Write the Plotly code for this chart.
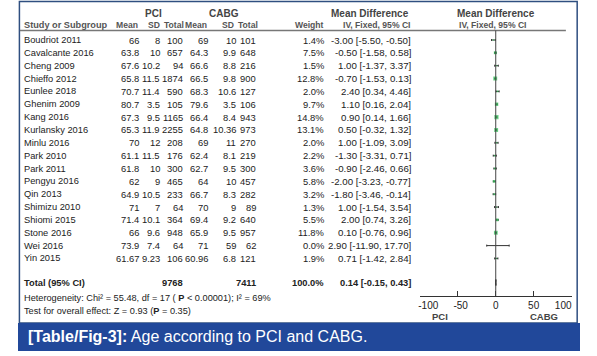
import plotly.graph_objects as go

W, H = 597, 356

studies = ["Boudriot 2011", "Cavalcante 2016", "Cheng 2009", "Chieffo 2012", "Eunlee 2018",
           "Ghenim 2009", "Kang 2016", "Kurlansky 2016", "Minlu 2016", "Park 2010", "Park 2011",
           "Pengyu 2016", "Qin 2013", "Shimizu 2010", "Shiomi 2015", "Stone 2016", "Wei 2016", "Yin 2015"]
pci_mean = [66, 63.8, 67.6, 65.8, 70.7, 80.7, 67.3, 65.3, 70, 61.1, 61.8, 62, 64.9, 71, 71.4, 66, 73.9, 61.67]
pci_sd = [8, 10, 10.2, 11.5, 11.4, 3.5, 9.5, 11.9, 12, 11.5, 10, 9, 10.5, 7, 10.1, 9.6, 7.4, 9.23]
pci_n = [100, 657, 94, 1874, 590, 105, 1165, 2255, 208, 176, 300, 465, 233, 64, 364, 948, 64, 106]
cabg_mean = [69, 64.3, 66.6, 66.5, 68.3, 79.6, 66.4, 64.8, 69, 62.4, 62.7, 64, 66.7, 70, 69.4, 65.9, 71, 60.96]
cabg_sd = [10, 9.9, 8.8, 9.8, 10.6, 3.5, 8.4, 10.36, 11, 8.1, 9.5, 10, 8.3, 9, 9.2, 9.5, 59, 6.8]
cabg_n = [101, 648, 216, 900, 127, 106, 943, 973, 270, 219, 300, 457, 282, 89, 640, 957, 62, 121]
weight = [1.4, 7.5, 1.5, 12.8, 2.0, 9.7, 14.8, 13.1, 2.0, 2.2, 3.6, 5.8, 3.2, 1.3, 5.5, 11.8, 0.0, 1.9]
md = [-3.00, -0.50, 1.00, -0.70, 2.40, 1.10, 0.90, 0.50, 1.00, -1.30, -0.90, -2.00, -1.80, 1.00, 2.00, 0.10, 2.90, 0.71]
ci_lo = [-5.50, -1.58, -1.37, -1.53, 0.34, 0.16, 0.14, -0.32, -1.09, -3.31, -2.46, -3.23, -3.46, -1.54, 0.74, -0.76, -11.90, -1.42]
ci_hi = [-0.50, 0.58, 3.37, 0.13, 4.46, 2.04, 1.66, 1.32, 3.09, 0.71, 0.66, -0.77, -0.14, 3.54, 3.26, 0.96, 17.70, 2.84]

total_pci_n = 9768
total_cabg_n = 7411
total_weight = 100.0
total_md, total_lo, total_hi = 0.14, -0.15, 0.43
axis_ticks = [-100, -50, 0, 50, 100]
heterogeneity = "Heterogeneity: Chi² = 55.48, df = 17 ( <b>P</b> < 0.00001); I² = 69%"
overall = "Test for overall effect: Z = 0.93 (<b>P</b> = 0.35)"
caption_bold = "[Table/Fig-3]:"
caption_text = "Age according to PCI and CABG."

FONT = "Liberation Sans, Arial, sans-serif"
TXT = "#222222"
HDR = "#555555"
NB = "\u00a0"

# layout geometry (pixels)
row0, drow = 40.0, 12.85
rows_y = [row0 + i * drow for i in range(len(studies))]
y_total, y_het, y_test = 282.5, 297.5, 310.5
y_axis_line = 296
y_header_line = 30.5
plot_x0, plot_x1 = 427, 588
col_right = [130, 152, 176, 203, 233, 254, 326, 419]

def fmt(v):
    return "%g" % v

annotations = []

def ann(text, x, y, anchor="left", size=9.5, color=TXT):
    annotations.append(dict(text=text, x=x / W, y=1 - y / H, xref="paper", yref="paper",
                            xanchor=anchor, yanchor="middle", showarrow=False, borderpad=0,
                            font=dict(family=FONT, size=size, color=color)))

# headers
ann("<b>PCI</b>", 143.5, 13, "center", 10, "#444444")
ann("<b>CABG</b>", 219, 13, "center", 10, "#444444")
ann("<b>Mean Difference</b>", 374, 13, "center", 10, "#444444")
ann("<b>Mean Difference</b>", 507.5, 13, "center", 10, "#444444")
ann("<b>Study or Subgroup</b>", 5, 25, "left", 9.2, HDR)
for lbl, xr in zip(["Mean", "SD", "Total", "Mean", "SD", "Total", "Weight", "IV, Fixed, 95% CI"],
                   [129, 152, 177, 202, 231, 256, 326, 419]):
    ann("<b>%s</b>" % lbl, xr, 25, "right", 8.6, HDR)
ann("<b>IV, Fixed, 95% CI</b>", 505, 25, "center", 8.6, HDR)

# rows
for i, s in enumerate(studies):
    y = rows_y[i]
    ann(s, 5, y, "left", 9.3)
    vals = [fmt(pci_mean[i]), fmt(pci_sd[i]), fmt(pci_n[i]), fmt(cabg_mean[i]), fmt(cabg_sd[i]),
            fmt(cabg_n[i]), "%.1f%%" % weight[i]]
    for v, xr in zip(vals, col_right[:7]):
        ann(v, xr, y, "right", 9.4)
    ann("%.2f [%.2f, %.2f]" % (md[i], ci_lo[i], ci_hi[i]), col_right[7], y, "right", 9.7)

# totals
ann("<b>Total (95% CI)</b>", 5, y_total, "left", 9.3)
ann("<b>%d</b>" % total_pci_n, col_right[2], y_total, "right", 9.3)
ann("<b>%d</b>" % total_cabg_n, col_right[5], y_total, "right", 9.3)
ann("<b>%.1f%%</b>" % total_weight, col_right[6], y_total, "right", 9.3)
ann("<b>%.2f [%.2f, %.2f]</b>" % (total_md, total_lo, total_hi), col_right[7], y_total, "right", 9.3)
ann(heterogeneity, 5, y_het, "left", 9.2)
ann(overall, 5, y_test, "left", 9.2)
ann("<b>PCI</b>", 448, 316.5, "center", 9.5, "#444444")
ann("<b>CABG</b>", 559, 316.5, "center", 9.5, "#444444")
ann("<b>%s</b> %s" % (caption_bold, caption_text), 10, 336.5, "left", 16, "#ffffff")

fig = go.Figure()

# CI lines + weight squares
fig.add_trace(go.Scatter(
    x=md, y=rows_y, mode="markers",
    marker=dict(symbol="square", color="#35c05a", size=[max(w, 0.01) ** 0.5 * 1.1 for w in weight],
                line=dict(width=0)),
    error_x=dict(type="data", symmetric=False,
                 array=[h - m for h, m in zip(ci_hi, md)],
                 arrayminus=[m - l for m, l in zip(md, ci_lo)],
                 thickness=1, width=1, color="#333333"),
    hoverinfo="skip", showlegend=False))

# total diamond
fig.add_trace(go.Scatter(
    x=[total_lo, total_md, total_hi, total_md, total_lo],
    y=[y_total, y_total - 3, y_total, y_total + 3, y_total],
    mode="lines", fill="toself", fillcolor="#111111", line=dict(color="#111111", width=1),
    hoverinfo="skip", showlegend=False))

shapes = [
    # frame
    dict(type="rect", xref="paper", yref="paper", x0=1.5 / W, x1=594 / W, y0=1 - 323 / H, y1=1 - 1.5 / H,
         line=dict(color="#2f4f80", width=1.5), fillcolor="rgba(0,0,0,0)", layer="below"),
    # caption band
    dict(type="rect", xref="paper", yref="paper", x0=0, x1=1, y0=1 - 351 / H, y1=1 - 323 / H,
         line=dict(width=0), fillcolor="#21489a", layer="below"),
    # header line
    dict(type="line", xref="paper", yref="paper", x0=2 / W, x1=582 / W, y0=1 - y_header_line / H,
         y1=1 - y_header_line / H, line=dict(color="#777777", width=1.5)),
    # zero line
    dict(type="line", xref="x", yref="y", x0=0, x1=0, y0=y_header_line, y1=y_axis_line,
         line=dict(color="#444444", width=1)),
]

# RevMan-style tick labels pulled inward at the axis ends
tick_text = [NB * 6 + "-100", NB * 2 + "-50", "0", "50", "100" + NB * 6]

fig.update_layout(
    width=W, height=H, margin=dict(l=0, r=0, t=0, b=0),
    paper_bgcolor="white", plot_bgcolor="rgba(0,0,0,0)",
    shapes=shapes, annotations=annotations,
    xaxis=dict(domain=[plot_x0 / W, plot_x1 / W], range=[-100, 100], anchor="free",
               position=1 - y_axis_line / H, showgrid=False, zeroline=False,
               showline=True, linecolor="#333333", linewidth=1,
               ticks="inside", ticklen=5, tickcolor="#333333", tickwidth=1,
               tickvals=axis_ticks, ticktext=tick_text, ticklabeloverflow="allow",
               tickfont=dict(family=FONT, size=10, color=TXT), fixedrange=True),
    yaxis=dict(domain=[0, 1], range=[H, 0], visible=False, fixedrange=True),
    font=dict(family=FONT),
)

fig.write_html("out.html", config={"displayModeBar": False},
               post_script="document.body.style.margin='0';document.body.style.overflow='hidden';")
